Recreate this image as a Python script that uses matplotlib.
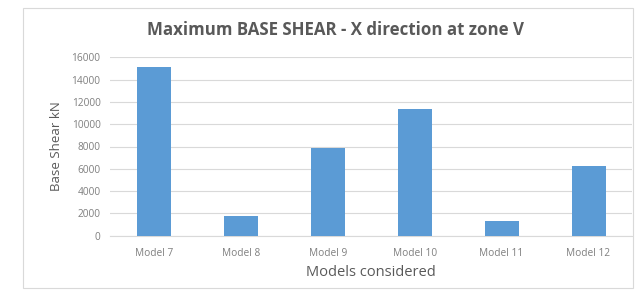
import matplotlib
matplotlib.use('Agg')
import matplotlib.pyplot as plt
from matplotlib.patches import Rectangle

models = ['Model 7', 'Model 8', 'Model 9', 'Model 10', 'Model 11', 'Model 12']
base_shear = [15100, 1800, 7900, 11350, 1300, 6280]
yticks = [0, 2000, 4000, 6000, 8000, 10000, 12000, 14000, 16000]

plt.rcParams['font.family'] = ['Open Sans', 'DejaVu Sans']
grey = '#595959'

fig = plt.figure(figsize=(6.41, 2.93), dpi=100)
ax = fig.add_axes([0.172, 0.196, 0.814, 0.608])

ax.bar(range(len(models)), base_shear, width=0.39, color='#5B9BD5', zorder=3)
ax.set_xlim(-0.5, len(models) - 0.5)
ax.set_ylim(0, 16000)
ax.set_yticks(yticks)
ax.set_yticklabels([str(t) for t in yticks])
ax.set_xticks(range(len(models)))
ax.set_xticklabels(models)
ax.grid(axis='y', color='#D9D9D9', linewidth=0.8, zorder=0)
ax.tick_params(axis='both', length=0, labelsize=7.3, labelcolor='#7F7F7F')
ax.tick_params(axis='y', pad=7)
ax.tick_params(axis='x', pad=9)
for s in ['top', 'right', 'left']:
    ax.spines[s].set_visible(False)
ax.spines['bottom'].set_color('#D9D9D9')

ax.set_xlabel('Models considered', fontsize=10.5, color=grey, labelpad=4)
ax.set_ylabel('Base Shear kN', fontsize=9.5, color=grey, labelpad=6)
fig.text(0.523, 0.898, 'Maximum BASE SHEAR - X direction at zone V',
         ha='center', va='center', fontsize=12.2, fontweight='bold', color=grey)

# outer chart frame
fig.patches.append(Rectangle((23 / 641, 1 - 288 / 293), 610 / 641, 280 / 293,
                             transform=fig.transFigure, fill=False,
                             edgecolor='#D9D9D9', linewidth=0.8))

fig.savefig('out.png', dpi=100)
